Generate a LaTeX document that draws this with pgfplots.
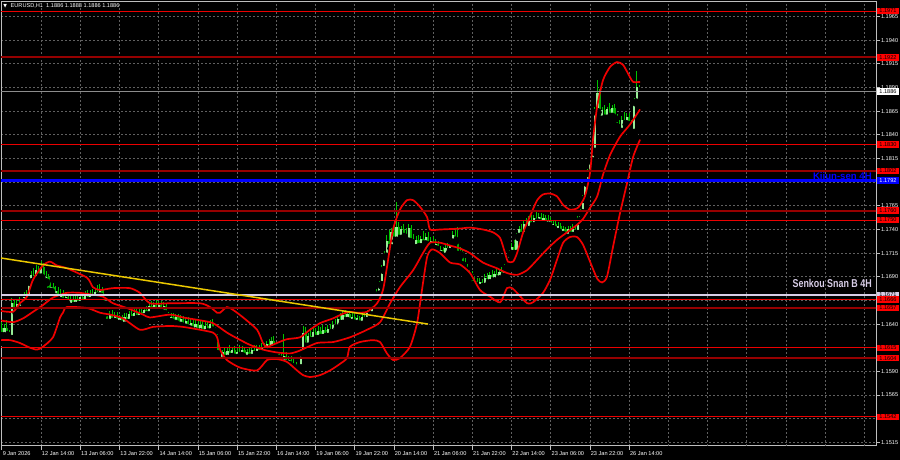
\documentclass[border=0pt]{standalone}
\usepackage{fontspec}
\setmainfont{Liberation Sans}
\newfontfamily\symfont{DejaVu Sans}
\usepackage{pgfplots}
\usepackage{pgfplotstable}
\pgfplotsset{compat=1.18}

\definecolor{gridc}{RGB}{96,96,96}
\definecolor{axc}{RGB}{190,190,190}
\definecolor{lvlred}{RGB}{235,0,0}
\definecolor{lvldark}{RGB}{150,0,0}
\definecolor{bbred}{RGB}{240,0,0}
\definecolor{wick}{RGB}{0,195,0}
\definecolor{bull}{RGB}{150,235,150}
\definecolor{bear}{RGB}{0,175,0}
\definecolor{kijun}{RGB}{0,0,255}
\definecolor{senkou}{RGB}{215,205,230}
\definecolor{trend}{RGB}{235,200,0}
\definecolor{curr}{RGB}{140,140,140}

\newcommand{\lbl}{\fontsize{2.8pt}{3.2pt}\selectfont}

% EURUSD H1 candles, one row per bar: open high low close
\pgfplotstableread{
o h l c
1.1636 1.1642 1.1622 1.1627
1.1627 1.1640 1.1620 1.1636
1.1636 1.1644 1.1624 1.1628
1.1628 1.1634 1.1616 1.1624
1.1624 1.1668 1.1620 1.1662
1.1662 1.1667 1.1648 1.1652
1.1652 1.1665 1.1646 1.1661
1.1661 1.1669 1.1650 1.1655
1.1655 1.1666 1.1648 1.1663
1.1663 1.1674 1.1657 1.1669
1.1669 1.1676 1.1660 1.1666
1.1666 1.1688 1.1663 1.1684
1.1684 1.1696 1.1677 1.1692
1.1692 1.1699 1.1680 1.1686
1.1686 1.1702 1.1682 1.1697
1.1697 1.1701 1.1684 1.1689
1.1689 1.1707 1.1686 1.1700
1.1700 1.1705 1.1680 1.1684
1.1684 1.1696 1.1677 1.1690
1.1690 1.1693 1.1670 1.1674
1.1674 1.1684 1.1665 1.1679
1.1679 1.1683 1.1663 1.1668
1.1668 1.1680 1.1662 1.1675
1.1675 1.1679 1.1660 1.1664
1.1664 1.1677 1.1659 1.1672
1.1672 1.1676 1.1658 1.1663
1.1663 1.1674 1.1657 1.1669
1.1669 1.1672 1.1654 1.1658
1.1658 1.1670 1.1653 1.1666
1.1666 1.1670 1.1654 1.1659
1.1659 1.1671 1.1655 1.1667
1.1667 1.1672 1.1656 1.1660
1.1660 1.1673 1.1656 1.1669
1.1669 1.1673 1.1658 1.1662
1.1662 1.1675 1.1659 1.1671
1.1671 1.1676 1.1660 1.1664
1.1664 1.1676 1.1660 1.1672
1.1672 1.1677 1.1661 1.1666
1.1666 1.1678 1.1662 1.1674
1.1674 1.1681 1.1665 1.1669
1.1669 1.1682 1.1664 1.1676
1.1676 1.1679 1.1658 1.1661
1.1661 1.1666 1.1648 1.1652
1.1652 1.1656 1.1637 1.1641
1.1641 1.1654 1.1636 1.1650
1.1650 1.1655 1.1638 1.1642
1.1642 1.1653 1.1635 1.1649
1.1649 1.1653 1.1637 1.1640
1.1640 1.1650 1.1633 1.1646
1.1646 1.1650 1.1633 1.1638
1.1638 1.1652 1.1635 1.1648
1.1648 1.1652 1.1638 1.1641
1.1641 1.1654 1.1638 1.1651
1.1651 1.1655 1.1641 1.1644
1.1644 1.1656 1.1640 1.1652
1.1652 1.1656 1.1642 1.1645
1.1645 1.1656 1.1641 1.1653
1.1653 1.1658 1.1643 1.1647
1.1647 1.1658 1.1643 1.1655
1.1655 1.1659 1.1645 1.1649
1.1649 1.1662 1.1646 1.1659
1.1659 1.1664 1.1648 1.1652
1.1652 1.1663 1.1648 1.1660
1.1660 1.1665 1.1649 1.1653
1.1653 1.1664 1.1648 1.1660
1.1660 1.1664 1.1647 1.1651
1.1651 1.1663 1.1647 1.1659
1.1659 1.1662 1.1645 1.1648
1.1648 1.1653 1.1638 1.1642
1.1642 1.1652 1.1636 1.1648
1.1648 1.1652 1.1636 1.1640
1.1640 1.1651 1.1635 1.1647
1.1647 1.1651 1.1635 1.1638
1.1638 1.1650 1.1634 1.1645
1.1645 1.1649 1.1632 1.1636
1.1636 1.1648 1.1632 1.1643
1.1643 1.1647 1.1630 1.1634
1.1634 1.1646 1.1630 1.1641
1.1641 1.1645 1.1628 1.1632
1.1632 1.1644 1.1628 1.1640
1.1640 1.1644 1.1627 1.1631
1.1631 1.1643 1.1627 1.1639
1.1639 1.1643 1.1626 1.1630
1.1630 1.1642 1.1626 1.1638
1.1638 1.1642 1.1626 1.1631
1.1631 1.1644 1.1628 1.1640
1.1640 1.1645 1.1629 1.1633
1.1633 1.1637 1.1620 1.1625
1.1625 1.1629 1.1603 1.1608
1.1608 1.1613 1.1594 1.1601
1.1601 1.1613 1.1597 1.1610
1.1610 1.1615 1.1599 1.1603
1.1603 1.1615 1.1599 1.1612
1.1612 1.1618 1.1601 1.1605
1.1605 1.1616 1.1600 1.1613
1.1613 1.1617 1.1600 1.1604
1.1604 1.1615 1.1599 1.1611
1.1611 1.1618 1.1602 1.1606
1.1606 1.1617 1.1602 1.1613
1.1613 1.1616 1.1600 1.1603
1.1603 1.1614 1.1599 1.1611
1.1611 1.1615 1.1600 1.1604
1.1604 1.1616 1.1600 1.1613
1.1613 1.1618 1.1603 1.1607
1.1607 1.1618 1.1603 1.1614
1.1614 1.1618 1.1602 1.1608
1.1608 1.1620 1.1604 1.1616
1.1616 1.1620 1.1606 1.1610
1.1610 1.1622 1.1607 1.1619
1.1619 1.1624 1.1609 1.1613
1.1613 1.1626 1.1610 1.1622
1.1622 1.1627 1.1611 1.1615
1.1615 1.1621 1.1607 1.1612
1.1612 1.1615 1.1599 1.1603
1.1603 1.1610 1.1594 1.1598
1.1598 1.1630 1.1595 1.1606
1.1606 1.1610 1.1593 1.1597
1.1597 1.1606 1.1590 1.1602
1.1602 1.1606 1.1590 1.1594
1.1594 1.1603 1.1585 1.1597
1.1597 1.1600 1.1583 1.1587
1.1587 1.1597 1.1580 1.1593
1.1593 1.1614 1.1588 1.1609
1.1609 1.1638 1.1604 1.1631
1.1631 1.1637 1.1610 1.1616
1.1616 1.1631 1.1612 1.1627
1.1627 1.1636 1.1619 1.1622
1.1622 1.1637 1.1618 1.1632
1.1632 1.1636 1.1620 1.1624
1.1624 1.1638 1.1620 1.1633
1.1633 1.1637 1.1621 1.1625
1.1625 1.1639 1.1621 1.1634
1.1634 1.1637 1.1622 1.1626
1.1626 1.1639 1.1622 1.1635
1.1635 1.1640 1.1626 1.1630
1.1630 1.1643 1.1627 1.1639
1.1639 1.1645 1.1631 1.1635
1.1635 1.1649 1.1632 1.1645
1.1645 1.1652 1.1637 1.1640
1.1640 1.1654 1.1637 1.1650
1.1650 1.1655 1.1640 1.1643
1.1643 1.1654 1.1639 1.1651
1.1651 1.1654 1.1637 1.1641
1.1641 1.1652 1.1636 1.1648
1.1648 1.1652 1.1637 1.1640
1.1640 1.1650 1.1635 1.1646
1.1646 1.1649 1.1635 1.1639
1.1639 1.1651 1.1636 1.1648
1.1648 1.1652 1.1639 1.1643
1.1643 1.1655 1.1640 1.1652
1.1652 1.1658 1.1645 1.1649
1.1649 1.1665 1.1646 1.1661
1.1661 1.1671 1.1656 1.1667
1.1667 1.1677 1.1660 1.1671
1.1671 1.1686 1.1667 1.1681
1.1681 1.1702 1.1676 1.1697
1.1697 1.1717 1.1692 1.1711
1.1711 1.1734 1.1706 1.1728
1.1728 1.1739 1.1716 1.1720
1.1720 1.1742 1.1717 1.1737
1.1737 1.1746 1.1724 1.1728
1.1728 1.1769 1.1726 1.1743
1.1743 1.1748 1.1726 1.1730
1.1730 1.1744 1.1725 1.1740
1.1740 1.1746 1.1728 1.1732
1.1732 1.1742 1.1724 1.1727
1.1727 1.1746 1.1724 1.1742
1.1742 1.1745 1.1723 1.1726
1.1726 1.1735 1.1716 1.1720
1.1720 1.1733 1.1714 1.1729
1.1729 1.1734 1.1717 1.1721
1.1721 1.1733 1.1716 1.1730
1.1730 1.1738 1.1720 1.1724
1.1724 1.1736 1.1720 1.1732
1.1732 1.1737 1.1719 1.1722
1.1722 1.1732 1.1716 1.1728
1.1728 1.1733 1.1715 1.1719
1.1719 1.1730 1.1714 1.1725
1.1725 1.1728 1.1709 1.1713
1.1713 1.1723 1.1706 1.1718
1.1718 1.1722 1.1706 1.1711
1.1711 1.1724 1.1708 1.1720
1.1720 1.1726 1.1712 1.1716
1.1716 1.1730 1.1713 1.1726
1.1726 1.1738 1.1720 1.1734
1.1734 1.1741 1.1724 1.1728
1.1728 1.1743 1.1707 1.1713
1.1713 1.1722 1.1704 1.1716
1.1716 1.1719 1.1698 1.1702
1.1702 1.1710 1.1693 1.1697
1.1697 1.1704 1.1686 1.1690
1.1690 1.1697 1.1681 1.1693
1.1693 1.1696 1.1677 1.1681
1.1681 1.1690 1.1674 1.1686
1.1686 1.1689 1.1674 1.1678
1.1678 1.1689 1.1673 1.1685
1.1685 1.1688 1.1672 1.1679
1.1679 1.1693 1.1676 1.1689
1.1689 1.1694 1.1680 1.1683
1.1683 1.1695 1.1679 1.1692
1.1692 1.1697 1.1682 1.1685
1.1685 1.1696 1.1681 1.1693
1.1693 1.1698 1.1683 1.1687
1.1687 1.1698 1.1683 1.1695
1.1695 1.1700 1.1686 1.1690
1.1690 1.1703 1.1686 1.1699
1.1699 1.1710 1.1693 1.1706
1.1706 1.1718 1.1700 1.1714
1.1714 1.1726 1.1708 1.1722
1.1722 1.1729 1.1710 1.1714
1.1714 1.1736 1.1711 1.1732
1.1732 1.1744 1.1725 1.1740
1.1740 1.1746 1.1729 1.1733
1.1733 1.1750 1.1730 1.1746
1.1746 1.1752 1.1735 1.1739
1.1739 1.1754 1.1736 1.1750
1.1750 1.1755 1.1740 1.1743
1.1743 1.1755 1.1739 1.1752
1.1752 1.1758 1.1743 1.1747
1.1747 1.1757 1.1743 1.1753
1.1753 1.1757 1.1742 1.1745
1.1745 1.1756 1.1741 1.1752
1.1752 1.1755 1.1740 1.1744
1.1744 1.1755 1.1740 1.1750
1.1750 1.1753 1.1736 1.1740
1.1740 1.1750 1.1734 1.1746
1.1746 1.1750 1.1733 1.1737
1.1737 1.1748 1.1732 1.1744
1.1744 1.1747 1.1730 1.1734
1.1734 1.1744 1.1728 1.1740
1.1740 1.1743 1.1727 1.1731
1.1731 1.1744 1.1728 1.1740
1.1740 1.1744 1.1728 1.1733
1.1733 1.1746 1.1729 1.1741
1.1741 1.1745 1.1730 1.1735
1.1735 1.1754 1.1732 1.1749
1.1749 1.1762 1.1744 1.1757
1.1757 1.1776 1.1752 1.1772
1.1772 1.1793 1.1766 1.1789
1.1789 1.1804 1.1781 1.1799
1.1799 1.1816 1.1793 1.1812
1.1812 1.1828 1.1804 1.1822
1.1822 1.1870 1.1818 1.1864
1.1864 1.1898 1.1856 1.1884
1.1884 1.1889 1.1851 1.1856
1.1856 1.1870 1.1849 1.1866
1.1866 1.1872 1.1853 1.1857
1.1857 1.1870 1.1851 1.1867
1.1867 1.1874 1.1855 1.1859
1.1859 1.1872 1.1853 1.1868
1.1868 1.1873 1.1853 1.1857
1.1857 1.1862 1.1844 1.1848
1.1848 1.1856 1.1838 1.1843
1.1843 1.1860 1.1840 1.1856
1.1856 1.1864 1.1847 1.1851
1.1851 1.1863 1.1847 1.1859
1.1859 1.1863 1.1845 1.1849
1.1849 1.1856 1.1836 1.1842
1.1842 1.1879 1.1839 1.1874
1.1874 1.1908 1.1868 1.1891
1.1891 1.1893 1.1880 1.1886
}\candles

% Bollinger bands (bar index, price)
\pgfplotstableread{
x y
-0.8 1.1654
4.5 1.1653
7.3 1.1662
10.2 1.1669
12.7 1.1687
16.7 1.1702
19.6 1.1706
22.4 1.1702
26.5 1.1699
34.7 1.1689
37.1 1.1679
40.0 1.1676
45.3 1.1678
52.2 1.1678
56.3 1.1673
60.4 1.1662
68.6 1.1662
80.8 1.1662
84.9 1.1658
87.8 1.1652
89.0 1.1652
91.8 1.1658
94.3 1.1655
98.4 1.1647
104.1 1.1634
106.5 1.1620
108.2 1.1616
112.2 1.1620
116.3 1.1624
121.6 1.1626
125.7 1.1634
129.8 1.1641
135.1 1.1646
139.2 1.1651
142.0 1.1653
144.9 1.1652
149.0 1.1653
153.1 1.1662
155.5 1.1676
157.1 1.1700
159.6 1.1740
162.4 1.1761
165.3 1.1771
167.8 1.1771
170.6 1.1764
173.5 1.1753
174.7 1.1740
178.8 1.1740
186.9 1.1741
191.0 1.1742
196.3 1.1740
200.4 1.1737
203.3 1.1731
205.3 1.1715
206.5 1.1706
208.6 1.1706
210.2 1.1715
212.7 1.1737
215.5 1.1754
218.4 1.1771
220.8 1.1777
223.7 1.1778
226.5 1.1775
229.0 1.1766
231.8 1.1761
235.1 1.1763
237.9 1.1775
240.0 1.1800
241.2 1.1835
242.9 1.1870
245.3 1.1898
248.2 1.1912
251.0 1.1917
253.5 1.1914
256.3 1.1901
257.6 1.1896
260.4 1.1896
}\bbupper

\pgfplotstableread{
x y
-0.8 1.1644
4.5 1.1642
8.6 1.1646
12.7 1.1653
16.7 1.1660
20.8 1.1668
26.5 1.1673
31.8 1.1673
37.1 1.1671
41.2 1.1669
45.3 1.1662
51.0 1.1657
57.6 1.1650
60.4 1.1647
68.6 1.1650
73.9 1.1647
80.8 1.1644
86.1 1.1641
91.8 1.1631
95.9 1.1625
101.2 1.1618
106.5 1.1613
112.2 1.1610
117.6 1.1609
121.6 1.1612
128.6 1.1620
135.1 1.1621
142.0 1.1626
149.0 1.1634
154.3 1.1642
158.4 1.1662
162.4 1.1679
167.8 1.1697
171.8 1.1715
174.7 1.1726
178.8 1.1726
182.9 1.1723
186.9 1.1720
191.0 1.1715
196.3 1.1705
202.0 1.1699
206.1 1.1694
210.2 1.1692
214.3 1.1697
218.4 1.1708
222.4 1.1719
226.5 1.1729
230.6 1.1737
234.7 1.1745
237.1 1.1751
240.0 1.1763
242.9 1.1775
245.3 1.1798
248.2 1.1819
252.2 1.1838
256.3 1.1851
260.4 1.1867
}\bbmid

\pgfplotstableread{
x y
-0.8 1.1623
3.3 1.1623
7.3 1.1620
11.4 1.1615
14.3 1.1613
16.7 1.1616
20.8 1.1626
23.7 1.1647
24.9 1.1652
26.5 1.1658
34.7 1.1657
40.0 1.1652
44.1 1.1650
49.4 1.1646
56.3 1.1634
61.6 1.1637
68.6 1.1638
73.9 1.1637
80.8 1.1634
86.1 1.1631
87.8 1.1626
89.0 1.1613
91.8 1.1602
97.1 1.1594
104.1 1.1591
108.2 1.1602
112.2 1.1603
116.3 1.1600
120.4 1.1591
122.9 1.1586
125.7 1.1584
129.8 1.1586
133.9 1.1591
138.0 1.1598
140.8 1.1604
142.0 1.1616
146.1 1.1621
151.4 1.1623
154.3 1.1621
157.1 1.1609
159.6 1.1602
162.4 1.1604
166.5 1.1616
169.4 1.1641
171.4 1.1676
173.5 1.1711
175.5 1.1719
178.8 1.1715
182.9 1.1705
186.9 1.1703
191.0 1.1694
195.1 1.1676
199.2 1.1669
203.3 1.1663
206.1 1.1678
208.2 1.1678
210.2 1.1673
214.3 1.1662
216.7 1.1663
220.8 1.1673
223.7 1.1687
226.5 1.1708
229.0 1.1726
231.8 1.1732
234.7 1.1732
237.1 1.1724
240.0 1.1706
242.9 1.1688
244.9 1.1684
246.9 1.1690
249.4 1.1722
252.2 1.1757
255.1 1.1789
257.6 1.1817
260.4 1.1835
}\bblower

\begin{document}
\begin{tikzpicture}
\fill[black] (0,0) rectangle (450pt,230pt);
\node[anchor=west, inner sep=0pt, text=white, font=\lbl] at (1.5pt,227pt)
  {{\symfont\fontsize{2.4pt}{3pt}\selectfont ▼}\hspace{1.8pt}EURUSD,H1\hspace{1.6pt}1.1886 1.1888 1.1886 1.1886};

\begin{axis}[
  at={(0.5pt,7pt)}, anchor=south west,
  scale only axis, width=437.5pt, height=222pt,
  clip mode=individual,
  xmin=-0.4, xmax=356.7,
  ymin=1.151109, ymax=1.198053,
  axis line style={axc, line width=0.5pt},
  tick style={axc, line width=0.5pt},
  tick align=outside, major tick length=2pt,
  xtick pos=bottom, ytick pos=right, yticklabel pos=right,
  xtick={0,16,...,256},
  xticklabels={9 Jan 2026,12 Jan 14:00,13 Jan 06:00,13 Jan 22:00,14 Jan 14:00,15 Jan 06:00,15 Jan 22:00,16 Jan 14:00,19 Jan 06:00,19 Jan 22:00,20 Jan 14:00,21 Jan 06:00,21 Jan 22:00,22 Jan 14:00,23 Jan 06:00,23 Jan 22:00,26 Jan 14:00},
  extra x ticks={272,288,...,352},
  extra x tick labels={},
  extra x tick style={major tick length=0pt},
  ytick={1.1515,1.1540,1.1565,1.1590,1.1615,1.1640,1.1665,1.1690,1.1715,1.1740,1.1765,1.1790,1.1815,1.1840,1.1865,1.1890,1.1915,1.1940,1.1965},
  scaled y ticks=false,
  yticklabel style={font=\lbl, text=white, anchor=west, inner sep=0pt, xshift=0.3pt,
    /pgf/number format/.cd, fixed, fixed zerofill, precision=4, assume math mode=true},
  xticklabel style={font=\lbl, text=white, anchor=north west, inner sep=0pt, xshift=0.2pt, yshift=-0.6pt},
  grid=major,
  major grid style={gridc, line width=0.5pt, dash pattern=on 1pt off 1pt},
]

% candles: wicks, then bear and bull bodies
\addplot[only marks, mark=none, forget plot,
  error bars/.cd, y dir=plus, y explicit, error mark=none,
  error bar style={wick, line width=0.5pt}]
  table[x expr=\coordindex, y=l, y error expr=\thisrow{h}-\thisrow{l}] {\candles};
\addplot[only marks, mark=none, forget plot,
  restrict expr to domain={\thisrow{c}-\thisrow{o}}{-1:-0.00001},
  error bars/.cd, y dir=plus, y explicit, error mark=none,
  error bar style={bear, line width=1.1pt}]
  table[x expr=\coordindex, y=c, y error expr=\thisrow{o}-\thisrow{c}] {\candles};
\addplot[only marks, mark=none, forget plot,
  restrict expr to domain={\thisrow{c}-\thisrow{o}}{0:1},
  error bars/.cd, y dir=plus, y explicit, error mark=none,
  error bar style={bull, line width=1.1pt}]
  table[x expr=\coordindex, y=o, y error expr=\thisrow{c}-\thisrow{o}] {\candles};

% Bollinger bands
\addplot[bbred, line width=0.85pt, smooth, tension=0.4] table {\bbupper};
\addplot[bbred, line width=0.85pt, smooth, tension=0.4] table {\bbmid};
\addplot[bbred, line width=0.85pt, smooth, tension=0.4] table {\bblower};

% horizontal levels
\addplot[lvlred, line width=0.5pt] coordinates {(-1,1.1971)(360,1.1971)};
\addplot[lvldark, line width=1pt] coordinates {(-1,1.1922)(360,1.1922)};
\addplot[curr, line width=0.5pt] coordinates {(-1,1.1886)(360,1.1886)};
\addplot[lvlred, line width=0.5pt] coordinates {(-1,1.1830)(360,1.1830)};
\addplot[lvldark, line width=1pt] coordinates {(-1,1.1802)(360,1.1802)};
\addplot[kijun, line width=1.5pt] coordinates {(-1,1.1792)(360,1.1792)};
\addplot[lvldark, line width=1pt] coordinates {(-1,1.1760)(360,1.1760)};
\addplot[lvlred, line width=0.5pt] coordinates {(-1,1.1750)(360,1.1750)};
\addplot[senkou, line width=1pt] coordinates {(-1,1.1671)(360,1.1671)};
\addplot[lvlred, line width=0.5pt] coordinates {(-1,1.1666)(360,1.1666)};
\addplot[lvldark, line width=1pt] coordinates {(-1,1.1657)(360,1.1657)};
\addplot[lvlred, line width=0.5pt] coordinates {(-1,1.1615)(360,1.1615)};
\addplot[lvldark, line width=1pt] coordinates {(-1,1.1604)(360,1.1604)};
\addplot[lvlred, line width=0.5pt] coordinates {(-1,1.1542)(360,1.1542)};

% trend line
\addplot[trend, line width=0.75pt] coordinates {(-0.8,1.1710)(173.9,1.1640)};

% line names
\node[anchor=base east, inner sep=0pt, text=kijun, font=\fontsize{4.8pt}{5pt}\selectfont\bfseries]
  at (axis cs:355.1,1.1793) {Kijun-sen 4H};
\node[anchor=base east, inner sep=0pt, text=senkou, font=\fontsize{5.7pt}{6pt}\selectfont\bfseries]
  at (axis cs:355.1,1.1679) {\scalebox{0.78}[1]{Senkou Snan B 4H}};

% anchors for the price tags, drawn after the axis so they cover the scale
\coordinate (p1971) at (axis cs:356.7,1.1971);
\coordinate (p1922) at (axis cs:356.7,1.1922);
\coordinate (p1886) at (axis cs:356.7,1.1886);
\coordinate (p1830) at (axis cs:356.7,1.1830);
\coordinate (p1802) at (axis cs:356.7,1.1802);
\coordinate (p1792) at (axis cs:356.7,1.1792);
\coordinate (p1760) at (axis cs:356.7,1.1760);
\coordinate (p1750) at (axis cs:356.7,1.1750);
\coordinate (p1671) at (axis cs:356.7,1.1671);
\coordinate (p1666) at (axis cs:356.7,1.1666);
\coordinate (p1657) at (axis cs:356.7,1.1657);
\coordinate (p1615) at (axis cs:356.7,1.1615);
\coordinate (p1604) at (axis cs:356.7,1.1604);
\coordinate (p1542) at (axis cs:356.7,1.1542);
\end{axis}

\tikzset{tag/.style={anchor=west, inner sep=0pt, minimum width=11pt, minimum height=3.2pt, xshift=0.3pt, font=\lbl, fill=red, text=black}}
\node[tag] at (p1971) {1.1971};
\node[tag] at (p1922) {1.1922};
\node[tag, fill=white, text=black] at (p1886) {1.1886};
\node[tag] at (p1830) {1.1830};
\node[tag] at (p1802) {1.1802};
\node[tag, fill=kijun, text=white] at (p1792) {1.1792};
\node[tag] at (p1760) {1.1760};
\node[tag] at (p1750) {1.1750};
\node[tag, fill=senkou, text=black] at (p1671) {1.1671};
\node[tag] at (p1666) {1.1666};
\node[tag] at (p1657) {1.1657};
\node[tag] at (p1615) {1.1615};
\node[tag] at (p1604) {1.1604};
\node[tag] at (p1542) {1.1542};

\pgfresetboundingbox
\useasboundingbox (0,0) rectangle (450pt,230pt);
\end{tikzpicture}
\end{document}
